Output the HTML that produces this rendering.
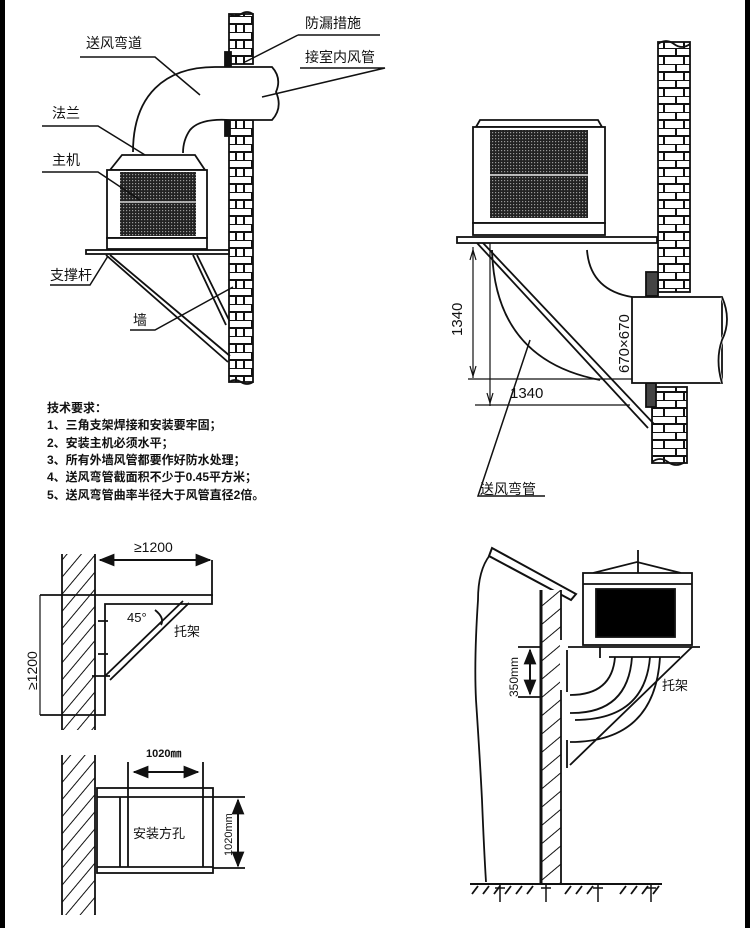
<!DOCTYPE html>
<html><head><meta charset="utf-8"><style>
html,body{margin:0;padding:0;background:#fff}
svg{display:block}
text{font-family:"Liberation Sans","Noto Sans CJK SC",sans-serif;fill:#111}
</style></head><body>
<svg width="750" height="928" viewBox="0 0 750 928" xmlns="http://www.w3.org/2000/svg">
<defs>
<pattern id="brick" width="24" height="16" patternUnits="userSpaceOnUse">
<rect width="24" height="16" fill="#fff"/>
<path d="M0 0H24M0 8H24M12 0V8M4 8V16M20 8V16" stroke="#111" stroke-width="2" fill="none"/>
</pattern>
<pattern id="brick2" width="32" height="16" patternUnits="userSpaceOnUse" x="658">
<rect width="32" height="16" fill="#fff"/>
<path d="M0 0H32M0 8H32M18 0V8M6 8V16M26 8V16" stroke="#111" stroke-width="2" fill="none"/>
</pattern>
<pattern id="hatch" width="11" height="11" patternUnits="userSpaceOnUse" patternTransform="rotate(-50)">
<rect width="11" height="11" fill="#fff"/><line x1="0" y1="0" x2="11" y2="0" stroke="#111" stroke-width="2"/>
</pattern>
<pattern id="hatch2" width="14" height="14" patternUnits="userSpaceOnUse" patternTransform="rotate(-40)">
<rect width="14" height="14" fill="#fff"/><line x1="0" y1="0" x2="14" y2="0" stroke="#111" stroke-width="2"/>
</pattern>
<pattern id="mesh" width="3" height="3" patternUnits="userSpaceOnUse">
<rect width="3" height="3" fill="#222"/><rect width="1.2" height="1.2" fill="#999"/>
</pattern>
<marker id="ar" viewBox="0 0 10 10" refX="9" refY="5" markerWidth="8" markerHeight="8" orient="auto-start-reverse"><path d="M0 1L10 5L0 9z" fill="#111"/></marker>
</defs>
<rect width="750" height="928" fill="#fff"/>
<rect x="0" y="0" width="5" height="928" fill="#000"/>
<rect x="745" y="0" width="5" height="928" fill="#000"/>

<g stroke="#111" stroke-width="1.8" fill="none">
<!-- TOP LEFT -->
<rect x="229" y="14" width="24" height="50" fill="url(#brick)"/>
<rect x="229" y="120" width="24" height="262" fill="url(#brick)"/>
<path d="M229 14q6 4 12 0t12 0M229 382q6-4 12 0t12 0"/>
<rect x="225" y="52" width="6" height="14" fill="#111"/>
<rect x="225" y="120" width="5" height="16" fill="#111"/>
<path d="M133 152C133 95 165 67 215 67H272Q282 78 276 92Q283 108 272 120H230Q200 118 190 130Q183 140 183 153" fill="#fff"/>
<path d="M110 170L122 155H195L205 170Z" fill="#fff"/>
<rect x="107" y="170" width="100" height="68" fill="#fff"/>
<rect x="120" y="172" width="76" height="64" fill="url(#mesh)" stroke="none"/>
<line x1="120" y1="202" x2="196" y2="202" stroke="#bbb"/>
<rect x="107" y="238" width="100" height="11" fill="#fff"/>
<rect x="86" y="250" width="143" height="4" fill="#fff"/>
<path d="M106 255L228 362M110 255L230 356M193 255L226 325M197 255L229 320"/>
<path d="M80 57H155L200 95M298 35H380M298 35L245 62M300 68H385L262 97M42 126H98L145 155M42 172H98L140 200M50 285H90L108 256M130 330H155L233 287" stroke-width="1.5"/>
</g>
<g font-size="14">
<text x="86" y="48">送风弯道</text>
<text x="305" y="28">防漏措施</text>
<text x="305" y="62">接室内风管</text>
<text x="52" y="118">法兰</text>
<text x="52" y="165">主机</text>
<text x="50" y="280">支撑杆</text>
<text x="133" y="325">墙</text>
</g>
<g font-size="12" font-weight="bold">
<text x="47" y="412">技术要求：</text>
<text x="47" y="429">1、三角支架焊接和安装要牢固；</text>
<text x="47" y="447">2、安装主机必须水平；</text>
<text x="47" y="464">3、所有外墙风管都要作好防水处理；</text>
<text x="47" y="481">4、送风弯管截面积不少于0.45平方米；</text>
<text x="47" y="499">5、送风弯管曲率半径大于风管直径2倍。</text>
</g>

<!-- TOP RIGHT -->
<g stroke="#111" stroke-width="1.8" fill="none">
<rect x="658" y="42" width="32" height="250" fill="url(#brick2)"/>
<rect x="652" y="387" width="35" height="76" fill="url(#brick2)"/>
<path d="M658 44q8 -6 16 0t16 0M652 462q8 -6 16 0t17 0"/>
<rect x="646" y="272" width="12" height="24" fill="#444"/>
<rect x="646" y="383" width="10" height="24" fill="#444"/>
<path d="M476 127L480 120H598L602 127Z" fill="#fff"/>
<rect x="473" y="127" width="132" height="96" fill="#fff"/>
<rect x="490" y="130" width="98" height="88" fill="url(#mesh)" stroke="none"/>
<line x1="490" y1="175" x2="588" y2="175" stroke="#ccc"/>
<rect x="473" y="223" width="132" height="12" fill="#fff"/>
<rect x="457" y="237" width="200" height="6" fill="#fff"/>
<path d="M587 250Q590 290 632 297M492 250Q495 360 600 380"/>
<rect x="632" y="297" width="90" height="86" fill="#fff"/>
<path d="M722 297Q732 320 722 340Q715 360 722 383" stroke="#fff" stroke-width="3"/>
<path d="M722 297Q732 320 722 340Q715 360 722 383"/>
<path d="M477 243L648 428M483 243L654 424"/>
<path d="M473 247V378M490 243V406M468 379H632M475 405H630" stroke-width="1.2"/>
<path d="M473 250L470 260M473 250L476 260M473 376L470 366M473 376L476 366M490 403L487 393M490 403L493 393" stroke-width="1.2"/>
<path d="M530 340L478 496H545" stroke-width="1.5"/>
</g>
<g font-size="15">
<text x="0" y="0" transform="translate(462 336) rotate(-90)">1340</text>
<text x="510" y="398">1340</text>
<text x="0" y="0" transform="translate(629 373) rotate(-90)">670×670</text>
<text x="480" y="494" font-size="14">送风弯管</text>
</g>

<!-- BOTTOM LEFT -->
<g stroke="#111" stroke-width="1.8" fill="none">
<rect x="62" y="554" width="33" height="176" fill="url(#hatch)" stroke="none"/>
<path d="M95 554V730M62 554V730"/>
<path d="M100 560H210" marker-start="url(#ar)" marker-end="url(#ar)" stroke-width="2"/>
<path d="M212 560V596"/>
<path d="M40 595H212V604H105V715H40" />
<path d="M105 676L183 601M110 680L189 603M98 654H108M98 621H108M92 676H110"/>
<path d="M40 595V715" stroke-width="1.2"/>
<path d="M155 610Q165 618 161 625" />
<rect x="62" y="755" width="33" height="160" fill="url(#hatch)" stroke="none"/>
<path d="M95 755V915M62 755V915"/>
<rect x="97" y="788" width="116" height="85" fill="#fff"/>
<path d="M97 797H213M97 867H213M120 797V867M128 762V867M203 762V867M213 797H245M213 868H245"/>
<path d="M134 772H198" marker-start="url(#ar)" marker-end="url(#ar)" stroke-width="2"/>
<path d="M238 800V866" marker-start="url(#ar)" marker-end="url(#ar)" stroke-width="2"/>
</g>
<g font-size="14">
<text x="134" y="552" fill="#444">≥1200</text>
<text x="0" y="0" transform="translate(37 690) rotate(-90)" fill="#444">≥1200</text>
<text x="127" y="622" font-size="13">45°</text>
<text x="174" y="636" font-size="13">托架</text>
<text x="146" y="757" font-size="11" font-weight="bold">1020㎜</text>
<text x="0" y="0" transform="translate(232 856) rotate(-90)" font-size="11">1020mm</text>
<text x="133" y="838" font-size="13">安装方孔</text>
</g>

<!-- BOTTOM RIGHT -->
<g stroke="#111" stroke-width="1.8" fill="none">
<path d="M490 555Q478 570 478 600Q474 660 476 700Q480 760 482 800Q484 850 486 882"/>
<path d="M492 548L576 594L571 600L489 556Z" stroke-width="2" fill="#fff"/>
<rect x="541" y="590" width="20" height="293" fill="url(#hatch2)" stroke="none"/>
<path d="M541 590V883" stroke-width="3"/>
<path d="M561 590V883"/>
<rect x="560" y="640" width="8" height="50" fill="#fff" stroke="none"/>
<path d="M567 650V692M567 740V768"/>
<path d="M470 884H662" stroke-width="2"/>
<path d="M472 894L478 886M483 894L489 886M494 894L500 886M505 894L511 886M516 894L522 886M527 894L533 886M565 894L571 886M576 894L582 886M587 894L593 886M620 894L626 886M631 894L637 886M642 894L648 886M653 894L659 886"/>
<path d="M500 884V902M495 888H505M546 884V902M541 888H551M598 884V902M593 888H603M651 884V902M646 888H656" stroke-width="1.5"/>
<path d="M593 573L637 562L681 573"/>
<path d="M638 550V590"/>
<rect x="583" y="573" width="109" height="72" fill="#fff"/>
<path d="M583 584H692"/>
<rect x="596" y="589" width="79" height="48" fill="#000"/>
<path d="M568 647H700M600 647V658M609 657H680"/>
<path d="M570 695Q612 695 615 657M570 713Q628 714 632 657M570 742Q655 742 660 657M570 765L692 647M575 720Q645 720 650 657"/>
<path d="M518 647H541M518 697H541"/>
<path d="M530 650V694" marker-start="url(#ar)" marker-end="url(#ar)" stroke-width="2"/>
</g>
<text x="0" y="0" transform="translate(518 697) rotate(-90)" font-size="12">350mm</text>
<text x="662" y="690" font-size="13">托架</text>
</svg>
</body></html>
